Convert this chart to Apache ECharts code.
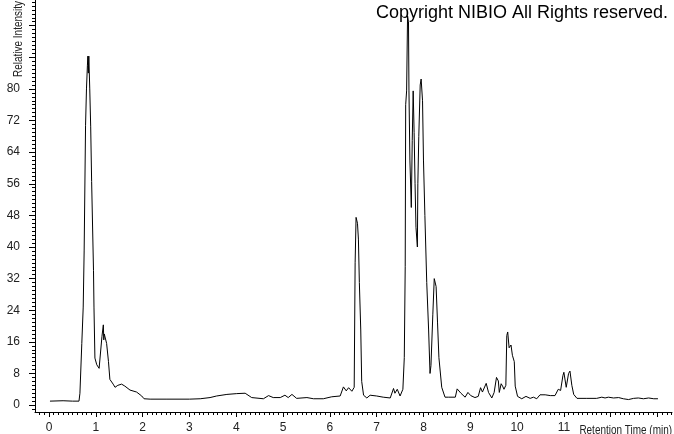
<!DOCTYPE html>
<html>
<head>
<meta charset="utf-8">
<script src="https://cdn.jsdelivr.net/npm/echarts@6/dist/echarts.min.js"></script>
<style>
html,body{margin:0;padding:0;background:#fff;}
#chart{width:674px;height:434px;}
</style>
</head>
<body>
<div id="chart"></div>
<script>
// Retention time (min)
const times = [
  0.02, 0.30, 0.50, 0.64, 0.66, 0.70, 0.73, 0.75, 0.78, 0.80,
  0.82, 0.83, 0.84, 0.85, 0.87, 0.89, 0.91, 0.95, 0.96, 0.98,
  1.02, 1.07, 1.13, 1.16, 1.17, 1.18, 1.23, 1.27, 1.30, 1.37,
  1.41, 1.47, 1.55, 1.62, 1.73, 1.87, 1.98, 2.03, 2.16, 2.50,
  3.00, 3.23, 3.44, 3.58, 3.80, 4.01, 4.19, 4.33, 4.58, 4.69,
  4.79, 4.94, 5.04, 5.11, 5.19, 5.29, 5.51, 5.65, 5.86, 6.04,
  6.22, 6.25, 6.29, 6.35, 6.40, 6.47, 6.52, 6.54, 6.56, 6.59,
  6.61, 6.63, 6.66, 6.68, 6.72, 6.79, 6.86, 7.00, 7.14, 7.29,
  7.36, 7.39, 7.44, 7.50, 7.56, 7.59, 7.61, 7.62, 7.64, 7.66,
  7.68, 7.69, 7.71, 7.74, 7.76, 7.78, 7.80, 7.82, 7.84, 7.87,
  7.88, 7.90, 7.93, 7.95, 7.98, 8.00, 8.03, 8.07, 8.11, 8.14,
  8.16, 8.20, 8.23, 8.27, 8.30, 8.33, 8.39, 8.46, 8.53, 8.57,
  8.68, 8.72, 8.76, 8.80, 8.89, 8.95, 9.01, 9.10, 9.17, 9.22,
  9.26, 9.30, 9.34, 9.39, 9.46, 9.51, 9.56, 9.60, 9.62, 9.66,
  9.69, 9.72, 9.76, 9.78, 9.80, 9.83, 9.87, 9.90, 9.94, 9.96,
  10.01, 10.10, 10.19, 10.28, 10.35, 10.42, 10.49, 10.60, 10.71, 10.81,
  10.88, 10.93, 10.98, 11.00, 11.05, 11.10, 11.13, 11.17, 11.21, 11.28,
  11.49, 11.70, 11.81, 11.88, 11.95, 12.06, 12.17, 12.27, 12.38, 12.49,
  12.59, 12.70, 12.81, 12.92, 13.01
];
// Relative intensity
const intensity = [
  1.0, 1.1, 1.0, 1.0, 3.0, 15.6, 24.8, 39.0, 70.8, 80.0,
  86.0, 88.3, 84.0, 88.3, 80.0, 70.4, 56.6, 34.0, 24.8, 11.9,
  10.2, 9.3, 17.3, 20.3, 16.5, 18.0, 15.6, 11.0, 6.5, 5.3,
  4.5, 5.0, 5.3, 4.8, 3.8, 3.3, 2.3, 1.6, 1.5, 1.5,
  1.5, 1.6, 1.9, 2.3, 2.7, 2.9, 3.0, 1.9, 1.6, 2.4,
  1.9, 1.9, 2.5, 1.9, 2.7, 1.7, 1.9, 1.6, 1.6, 2.1,
  2.3, 2.2, 4.6, 3.6, 4.4, 3.5, 4.5, 36.0, 47.5, 46.0,
  42.0, 31.0, 19.0, 6.0, 2.5, 1.8, 2.5, 2.3, 2.0, 1.8,
  4.2, 3.0, 4.0, 2.3, 4.0, 12.0, 35.0, 76.0, 79.5, 98.5,
  97.0, 79.5, 62.0, 50.0, 67.0, 79.5, 69.0, 56.0, 45.0, 40.0,
  56.0, 68.0, 81.0, 82.5, 77.0, 62.0, 48.0, 31.0, 19.0, 8.0,
  10.0, 23.0, 32.0, 30.0, 21.0, 12.0, 4.5, 2.0, 2.0, 2.1,
  2.0, 4.1, 4.0, 3.0, 2.0, 3.2, 2.4, 1.9, 2.2, 4.4,
  3.3, 3.2, 5.5, 3.2, 1.8, 3.2, 7.0, 6.1, 3.2, 5.4,
  4.8, 4.0, 5.0, 17.6, 18.5, 14.5, 15.2, 12.6, 11.0, 4.8,
  2.2, 1.6, 2.2, 1.7, 2.0, 1.6, 2.6, 2.6, 2.4, 2.4,
  4.0, 3.7, 7.5, 8.3, 4.5, 8.0, 8.6, 5.0, 2.7, 1.7,
  1.7, 1.7, 2.0, 1.8, 2.0, 1.8, 1.9, 1.6, 1.4, 1.7,
  1.8, 1.6, 1.8, 1.6, 1.6
];
// Tick values and labels
const xMajorTicks = [0,1,2,3,4,5,6,7,8,9,10,11,12,13];
const xTickLabels = [0,1,2,3,4,5,6,7,8,9,10,11];
const yMajorTicks = [0,8,16,24,32,40,48,56,64,72,80,88,96];
const yTickLabels = [0,8,16,24,32,40,48,56,64,72,80];
const xTitle = 'Retention Time (min)';
const yTitle = 'Relative Intensity';
const copyrightText = 'Copyright NIBIO All Rights reserved.';

const xMin = -0.3, xMax = 13.31, yMin = -1.75, yMax = 102.5;

const xMinorTicks = [];
for (let i = -2; i <= 133; i++) xMinorTicks.push(+(i / 10).toFixed(1));
const yMinorTicks = [];
for (let i = -1; i <= 102; i++) yMinorTicks.push(i);

const seriesData = times.map((t, i) => [t, intensity[i]]);
const labelFont = '"Liberation Sans", Arial, sans-serif';

const chart = echarts.init(document.getElementById('chart'), null, {renderer: 'canvas'});
chart.setOption({
  animation: false,
  backgroundColor: '#ffffff',
  grid: {left: 35, top: 0, width: 637, height: 416, containLabel: false},
  xAxis: [
    {
      type: 'value', min: xMin, max: xMax, position: 'bottom',
      splitLine: {show: false},
      axisLine: {show: true, onZero: false, lineStyle: {color: '#000', width: 1}},
      axisTick: {show: true, length: 5, customValues: xMajorTicks, lineStyle: {color: '#000'}},
      axisLabel: {show: true, customValues: xTickLabels, margin: 10, color: '#222',
        fontFamily: labelFont, fontSize: 12}
    },
    {
      type: 'value', min: xMin, max: xMax, position: 'bottom',
      splitLine: {show: false},
      axisLine: {show: false, onZero: false},
      axisTick: {show: true, length: 3, customValues: xMinorTicks, lineStyle: {color: '#000'}},
      axisLabel: {show: false}
    }
  ],
  yAxis: [
    {
      type: 'value', min: yMin, max: yMax, position: 'left',
      splitLine: {show: false},
      axisLine: {show: true, onZero: false, lineStyle: {color: '#000', width: 1}},
      axisTick: {show: true, length: 6, customValues: yMajorTicks, lineStyle: {color: '#000'}},
      axisLabel: {show: true, customValues: yTickLabels, margin: 15, color: '#222',
        fontFamily: labelFont, fontSize: 12}
    },
    {
      type: 'value', min: yMin, max: yMax, position: 'left',
      splitLine: {show: false},
      axisLine: {show: false, onZero: false},
      axisTick: {show: true, length: 3, customValues: yMinorTicks, lineStyle: {color: '#000'}},
      axisLabel: {show: false}
    }
  ],
  series: [{
    type: 'line',
    xAxisIndex: 0, yAxisIndex: 0,
    data: seriesData,
    showSymbol: false,
    symbol: 'none',
    smooth: false,
    lineStyle: {color: '#000', width: 1},
    clip: true
  }],
  graphic: [
    {
      type: 'text', x: 668, y: 13,
      style: {text: copyrightText, fill: '#000', textAlign: 'right', textVerticalAlign: 'middle',
        font: '18px "Liberation Sans", Arial, sans-serif'}
    },
    {
      type: 'text', x: 672, y: 425, scaleX: 0.83,
      style: {text: xTitle, fill: '#222', textAlign: 'right', textVerticalAlign: 'top',
        font: '12px ' + labelFont}
    },
    {
      type: 'text', x: 19, y: 39, rotation: Math.PI / 2, scaleX: 0.83,
      style: {text: yTitle, fill: '#222', textAlign: 'center', textVerticalAlign: 'middle',
        font: '12px ' + labelFont}
    }
  ]
});
</script>
</body>
</html>
